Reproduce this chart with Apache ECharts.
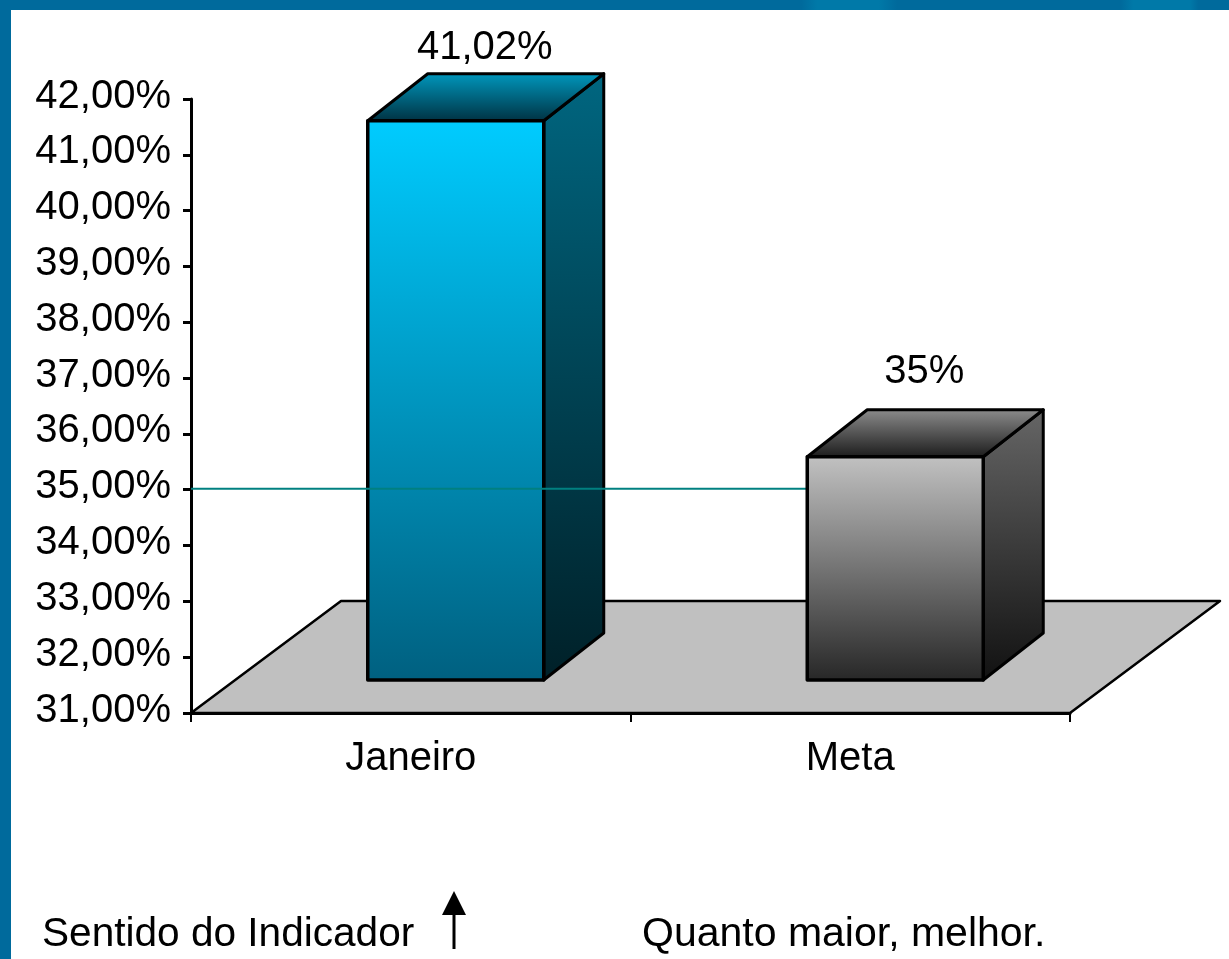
<!DOCTYPE html>
<html>
<head>
<meta charset="utf-8">
<style>html,body{margin:0;padding:0;background:#fff}#c{width:1229px;height:959px}</style>
<script src="https://cdn.jsdelivr.net/npm/echarts@6/dist/echarts.min.js"></script>
</head>
<body>
<div id="c"></div>
<script>
const categories = ['Janeiro', 'Meta'];
const barValues = [41.02, 35];
const barLabels = ['41,02%', '35%'];
const targetValue = 35;
const yTickLabels = ['31,00%','32,00%','33,00%','34,00%','35,00%','36,00%','37,00%','38,00%','39,00%','40,00%','41,00%','42,00%'];
const footerLeft = 'Sentido do Indicador';
const footerRight = 'Quanto maior, melhor.';

const FONT = '"Liberation Sans", Arial, sans-serif';
const lg = (a, b) => ({type:'linear',x:0,y:0,x2:0,y2:1,colorStops:[{offset:0,color:a},{offset:1,color:b}]});
const palettes = [
  {front: lg('#00CCFF','#006080'), top: lg('#0099BF','#003040'), side: lg('#006680','#002028'), lift:6},
  {front: lg('#C2C2C2','#262626'), top: lg('#8E8E8E','#1A1A1A'), side: lg('#666666','#111111'), lift:18}
];
const DX = 60, DY = 47, FX = 45, FY = 33, HALF = 88;
const strokeStyle = (fill, w) => ({fill, stroke:'#000', lineWidth:w, lineJoin:'round'});

function renderBar(params, api) {
  const i = api.value(0);
  const base = api.coord([i, 31]);
  const topP = api.coord([i, api.value(1)]);
  const l = base[0] + FX - HALF, r = base[0] + FX + HALF;
  const t = topP[1] - FY, b = base[1] - FY;
  const p = palettes[i];
  return {type:'group', children:[
    {type:'polygon', shape:{points:[[r,t],[r+DX,t-DY],[r+DX,b-DY],[r,b]]}, style:strokeStyle(p.side,3)},
    {type:'polygon', shape:{points:[[l,t],[l+DX,t-DY],[r+DX,t-DY],[r,t]]}, style:strokeStyle(p.top,3)},
    {type:'rect', shape:{x:l,y:t,width:r-l,height:b-t}, style:strokeStyle(p.front,3.5)},
    {type:'text', style:{x:base[0]+FX+DX/2-1, y:t-DY-p.lift, text:barLabels[i], fill:'#000',
      font:'40px '+FONT, textAlign:'center', textVerticalAlign:'bottom'}}
  ]};
}

function renderFloor(params, api) {
  const cs = params.coordSys;
  const y = api.coord([0, 31])[1];
  const xl = cs.x, xr = cs.x + cs.width, dx = 150, dy = 112;
  return {type:'polygon',
    shape:{points:[[xl,y],[xl+dx,y-dy],[xr+dx,y-dy],[xr,y]]},
    style:{fill:'#C0C0C0', stroke:'#000', lineWidth:2.5, lineJoin:'round'}};
}

function renderTarget(params, api) {
  const cs = params.coordSys;
  const y = api.coord([0, api.value(0)])[1] - 1;
  return {type:'line', shape:{x1:cs.x, y1:y, x2:api.coord([1, 31])[0], y2:y},
    style:{stroke:'#008080', lineWidth:2}};
}

const BLUE = '#006A9C', LIGHT = '#0079A8';
const stripFill = {type:'linear', x:0, y:0, x2:1, y2:0, colorStops:[
  {offset:0, color:BLUE}, {offset:0.652, color:BLUE}, {offset:0.665, color:LIGHT},
  {offset:0.715, color:LIGHT}, {offset:0.73, color:BLUE}, {offset:0.912, color:BLUE},
  {offset:0.922, color:LIGHT}, {offset:0.968, color:LIGHT}, {offset:0.975, color:BLUE}, {offset:1, color:BLUE}
]};

const chart = echarts.init(document.getElementById('c'), null, {renderer:'canvas', width:1229, height:959});
chart.setOption({
  animation:false,
  backgroundColor:'#fff',
  grid:{left:191, top:99, width:879, height:614},
  xAxis:{type:'category', data:categories,
    axisLine:{lineStyle:{color:'#000',width:3}},
    axisTick:{show:true, length:9, lineStyle:{color:'#000',width:2}},
    axisLabel:{color:'#000', fontFamily:'Liberation Sans', fontSize:40, margin:26}},
  yAxis:{type:'value', min:31, max:42, interval:1,
    splitLine:{show:false},
    axisLine:{show:true, lineStyle:{color:'#000',width:3}},
    axisTick:{show:true, length:8, lineStyle:{color:'#000',width:3}},
    axisLabel:{color:'#000', fontFamily:'Liberation Sans', fontSize:40, margin:20,
      verticalAlign:'bottom', lineHeight:5,
      formatter:(v)=>yTickLabels[Math.round(v-31)]}},
  series:[
    {type:'custom', z:1, silent:true, renderItem:renderFloor, data:[[0]], clip:false},
    {type:'custom', z:2, silent:true, renderItem:renderBar, data:[[0, barValues[0]]], clip:false, encode:{x:0,y:1}},
    {type:'custom', z:3, silent:true, renderItem:renderTarget, data:[[targetValue]], clip:false},
    {type:'custom', z:4, silent:true, renderItem:renderBar, data:[[1, barValues[1]]], clip:false, encode:{x:0,y:1}}
  ],
  graphic:[
    {type:'rect', z:100, shape:{x:0,y:0,width:1229,height:10}, style:{fill:stripFill}},
    {type:'rect', z:100, shape:{x:0,y:0,width:11,height:959}, style:{fill:BLUE}},
    {type:'text', z:100, style:{x:42,y:935,text:footerLeft,fill:'#000',font:'40.6px '+FONT,textVerticalAlign:'middle'}},
    {type:'text', z:100, style:{x:642,y:935,text:footerRight,fill:'#000',font:'41px '+FONT,textVerticalAlign:'middle'}},
    {type:'line', z:100, shape:{x1:454,y1:905,x2:454,y2:949}, style:{stroke:'#000',lineWidth:3}},
    {type:'polygon', z:100, shape:{points:[[454,891],[466,915],[442,915]]}, style:{fill:'#000'}}
  ]
});
</script>
</body>
</html>
